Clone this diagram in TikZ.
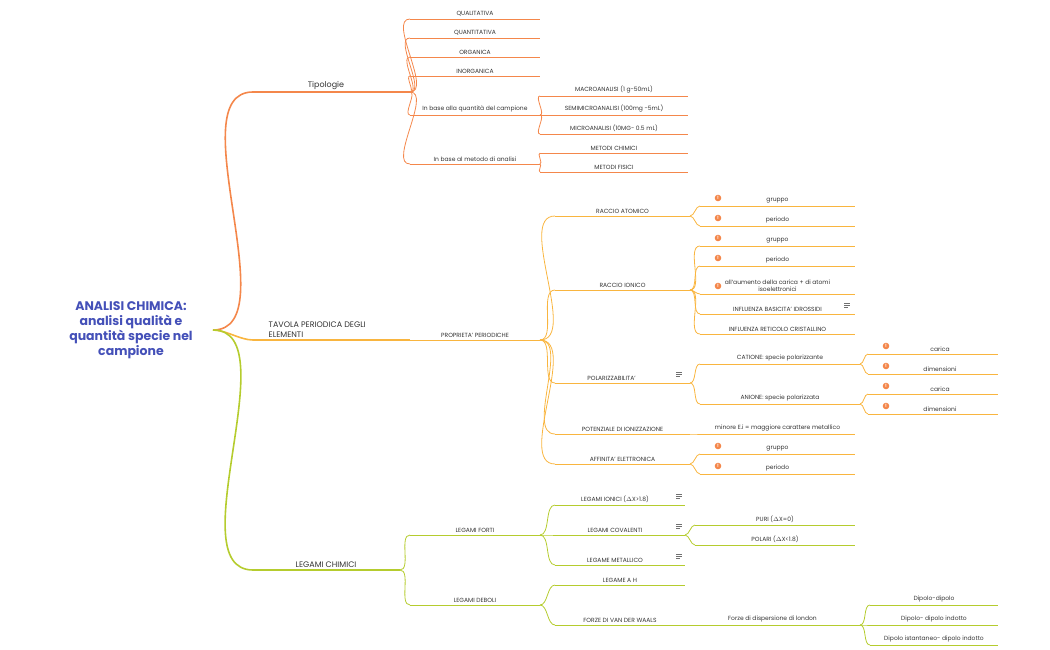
\documentclass[tikz,border=0pt]{standalone}
\usepackage{fontspec}
\setmainfont{Poppins}
\definecolor{tipo}{HTML}{F4874B}
\definecolor{tavo}{HTML}{F9B53F}
\definecolor{lega}{HTML}{B5CC2E}
\definecolor{rootblue}{HTML}{4450B8}
\definecolor{txt}{HTML}{333333}
\tikzset{
  lbl/.style={anchor=south, inner sep=2.5pt, text=txt, font=\fontsize{6}{7.2}\selectfont, align=center},
  big/.style={lbl, font=\fontsize{8}{10}\selectfont},
  edge/.style={line width=0.8pt},
}
% one topic: name, x start, x end, y, colour, text
\newcommand{\topic}[6]{%
  \coordinate (#1-s) at (#2,#4);
  \coordinate (#1-e) at (#3,#4);
  \draw[edge,#5] (#1-s) -- (#1-e);
  \node[lbl] (#1) at ({(#2+#3)/2},#4) {#6};}
\newcommand{\link}[3]{\draw[edge,#3] (#1-e) to[out=0,in=180,looseness=0.8] (#2-s);}
\newcommand{\warn}[2]{%
  \fill[tipo] (#1,#2-8) circle (3.3);
  \node[text=white, inner sep=0pt, font=\fontsize{4.5}{5}\selectfont\bfseries] at (#1,#2-8) {!};}
\newcommand{\note}[2]{%
  \draw[txt!70, line width=0.5pt] (#1,#2-11) -- +(6,0) (#1,#2-9) -- +(6,0) (#1,#2-7) -- +(4,0);}
\begin{document}
\begin{tikzpicture}[x=1pt,y=-1pt]
\useasboundingbox (0,0) rectangle (1050,650);
% root
\node[text=rootblue, font=\fontsize{12.5}{15}\selectfont\bfseries, align=center] (root) at (131,330)
  {ANALISI CHIMICA:\\analisi qualità e\\quantità specie nel\\campione};
\coordinate (root-e) at (213,330);

% tipologie
\topic{tip}{253}{410}{92}{tipo,line width=1.2pt}{}
\node[big] at (326,92) {Tipologie};
\draw[tipo,line width=1.6pt] (root-e) to[out=0,in=180,looseness=0.8] (tip-s);
\topic{qual}{410}{540}{19}{tipo}{QUALITATIVA}
\topic{quant}{410}{540}{38}{tipo}{QUANTITATIVA}
\topic{org}{410}{540}{57}{tipo}{ORGANICA}
\topic{inorg}{410}{540}{76}{tipo}{INORGANICA}
\topic{bq}{410}{540}{115}{tipo}{In base alla quantità del campione}
\topic{bm}{410}{540}{164}{tipo}{In base al metodo di analisi}
\foreach \c in {qual,quant,org,inorg,bq,bm} {\link{tip}{\c}{tipo}}
\topic{macro}{540}{688}{96}{tipo}{MACROANALISI (1 g-50mL)}
\topic{semi}{540}{688}{115}{tipo}{SEMIMICROANALISI (100mg -5mL)}
\topic{micro}{540}{688}{134}{tipo}{MICROANALISI (10MG- 0.5 mL)}
\foreach \c in {macro,semi,micro} {\link{bq}{\c}{tipo}}
\topic{chim}{540}{688}{153}{tipo}{METODI CHIMICI}
\topic{fis}{540}{688}{172}{tipo}{METODI FISICI}
\foreach \c in {chim,fis} {\link{bm}{\c}{tipo}}

% tavola periodica
\topic{tav}{253}{410}{340}{tavo,line width=1.2pt}{}
\node[big, align=left, anchor=south west] at (266,340) {TAVOLA PERIODICA DEGLI\\ELEMENTI};
\draw[tavo,line width=1.6pt] (root-e) to[out=0,in=180,looseness=0.8] (tav-s);
\topic{prop}{410}{540}{340}{tavo}{PROPRIETA' PERIODICHE}
\topic{ra}{555}{690}{216}{tavo}{RACCIO ATOMICO}
\topic{ri}{555}{690}{290}{tavo}{RACCIO IONICO}
\topic{pol}{555}{690}{383}{tavo}{POLARIZZABILITA'\hspace{22pt}}
\topic{pot}{555}{690}{434}{tavo}{POTENZIALE DI IONIZZAZIONE}
\topic{aff}{555}{690}{464}{tavo}{AFFINITA' ELETTRONICA}
\note{676}{383}
\foreach \c in {ra,ri,pol,pot,aff} {\link{prop}{\c}{tavo}}
\topic{rag}{700}{855}{206}{tavo}{gruppo}
\topic{rap}{700}{855}{226}{tavo}{periodo}
\foreach \c in {rag,rap} {\link{ra}{\c}{tavo}}
\topic{rig}{700}{855}{246}{tavo}{gruppo}
\topic{rip}{700}{855}{266}{tavo}{periodo}
\topic{ria}{700}{855}{294}{tavo}{all'aumento della carica + di atomi\\isoelettronici}
\topic{rib}{700}{855}{314}{tavo}{INFLUENZA BASICITA' IDROSSIDI}
\topic{rir}{700}{855}{334}{tavo}{INFLUENZA RETICOLO CRISTALLINO}
\note{844}{314}
\foreach \c in {rig,rip,ria,rib,rir} {\link{ri}{\c}{tavo}}
\foreach \y in {206,226,246,266,294,454,474} {\warn{718}{\y}}
\topic{cat}{700}{860}{364}{tavo}{CATIONE: specie polarizzante}
\topic{ani}{700}{860}{404}{tavo}{ANIONE: specie polarizzata}
\foreach \c in {cat,ani} {\link{pol}{\c}{tavo}}
\topic{cc}{868}{998}{354}{tavo}{\hspace{14pt}carica}
\topic{cd}{868}{998}{374}{tavo}{\hspace{14pt}dimensioni}
\topic{ac}{868}{998}{394}{tavo}{\hspace{14pt}carica}
\topic{ad}{868}{998}{414}{tavo}{\hspace{14pt}dimensioni}
\foreach \c in {cc,cd} {\link{cat}{\c}{tavo}}
\foreach \c in {ac,ad} {\link{ani}{\c}{tavo}}
\foreach \y in {354,374,394,414} {\warn{886}{\y}}
\topic{min}{700}{855}{434}{tavo}{minore E.i = maggiore carattere metallico}
\link{pot}{min}{tavo}
\topic{afg}{700}{855}{454}{tavo}{gruppo}
\topic{afp}{700}{855}{474}{tavo}{periodo}
\foreach \c in {afg,afp} {\link{aff}{\c}{tavo}}

% legami chimici
\topic{leg}{253}{400}{570}{lega,line width=1.2pt}{}
\node[big] at (326,570) {LEGAMI CHIMICI};
\draw[lega,line width=1.6pt] (root-e) to[out=0,in=180,looseness=0.8] (leg-s);
\topic{lf}{410}{540}{535}{lega}{LEGAMI FORTI}
\topic{ld}{410}{540}{605}{lega}{LEGAMI DEBOLI}
\foreach \c in {lf,ld} {\link{leg}{\c}{lega}}
\topic{ion}{555}{685}{505}{lega}{LEGAMI IONICI ($\Delta$X>1.8)\hspace{10pt}}
\topic{cov}{555}{685}{535}{lega}{LEGAMI COVALENTI\hspace{10pt}}
\topic{met}{555}{685}{565}{lega}{LEGAME METALLICO\hspace{10pt}}
\foreach \y in {505,535,565} {\note{676}{\y}}
\foreach \c in {ion,cov,met} {\link{lf}{\c}{lega}}
\topic{puri}{695}{855}{525}{lega}{PURI ($\Delta$X=0)}
\topic{polr}{695}{855}{545}{lega}{POLARI ($\Delta$X<1.8)}
\foreach \c in {puri,polr} {\link{cov}{\c}{lega}}
\topic{lah}{555}{685}{585}{lega}{LEGAME A H}
\topic{vdw}{555}{685}{625}{lega}{FORZE DI VAN DER WAALS}
\foreach \c in {lah,vdw} {\link{ld}{\c}{lega}}
\topic{lon}{685}{860}{625}{lega}{Forze di dispersione di london}
\topic{dd}{870}{998}{605}{lega}{Dipolo-dipolo}
\topic{ddi}{870}{998}{625}{lega}{Dipolo- dipolo indotto}
\topic{dis}{870}{998}{645}{lega}{Dipolo istantaneo- dipolo indotto}
\foreach \c in {dd,ddi,dis} {\link{lon}{\c}{lega}}
\end{tikzpicture}
\end{document}
